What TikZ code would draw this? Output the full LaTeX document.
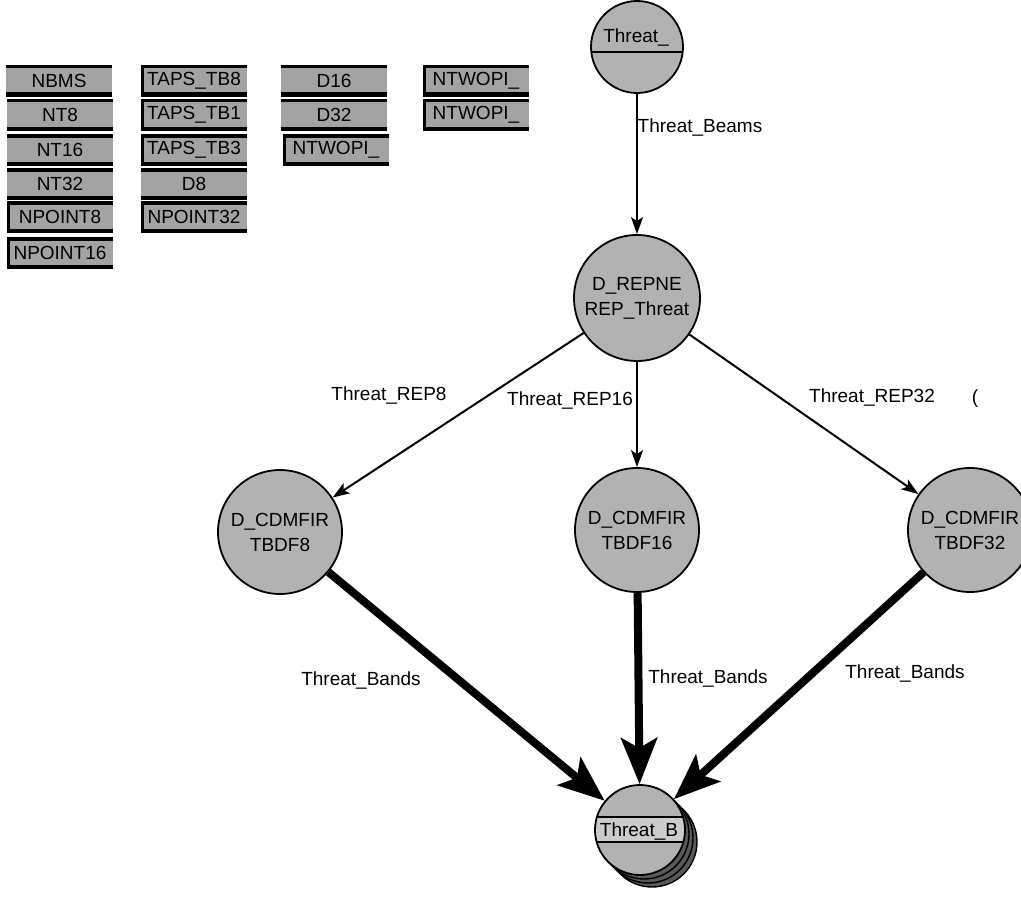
\documentclass[tikz,border=0pt]{standalone}
\usepackage{fontspec}
\setmainfont{Liberation Sans}
\usetikzlibrary{arrows.meta}
\definecolor{boxgray}{gray}{0.64}
\definecolor{circgray}{gray}{0.70}
\definecolor{bandgray}{gray}{0.80}
\definecolor{shadegray}{gray}{0.35}
\begin{document}
\begin{tikzpicture}[x=1pt,y=-1pt,
  every node/.style={font=\fontsize{19}{25}\selectfont, inner sep=0pt},
  box/.style={fill=boxgray, minimum width=106pt, minimum height=31pt},
  tb/.style={box, path picture={
      \draw[line width=6pt] (path picture bounding box.north west) -- (path picture bounding box.north east);
      \draw[line width=8pt] (path picture bounding box.south west) -- (path picture bounding box.south east);}},
  ltb/.style={box, path picture={
      \draw[line width=6pt] (path picture bounding box.north east) -- (path picture bounding box.north west)
      -- (path picture bounding box.south west);
      \draw[line width=8pt] (path picture bounding box.south west) -- (path picture bounding box.south east);}},
  circ/.style={circle, draw, line width=1.8pt, fill=circgray, align=center},
  shade/.style={circle, draw, line width=1.4pt, fill=shadegray, minimum size=90pt},
  thinarrow/.style={line width=2pt, -{Stealth[length=17pt,width=12pt,inset=4pt]}},
  thickarrow/.style={line width=8pt, -{Stealth[length=46pt,width=36pt,inset=10pt]}},
  lbl/.style={fill=none}
]
\useasboundingbox (0,0) rectangle (1021,899);
\fill[white] (0,0) rectangle (1021,899);
\clip (0,0) rectangle (1021,899);

% ---- palette boxes ----
\node[tb]  (nbms)  at (59,81)  {NBMS};
\node[tb]  (nt8)   at (60,115) {NT8};
\node[tb]  (nt16)  at (60,150) {NT16};
\node[tb]  (nt32)  at (60,184) {NT32};
\node[ltb] (np8)   at (60,217) {NPOINT8};
\node[ltb] (np16)  at (60,253) {NPOINT16};
\node[ltb] (tb8)   at (194,81)  {TAPS\_TB8};
\node[ltb] (tb1)   at (194,115) {TAPS\_TB1};
\node[ltb] (tb3)   at (194,150) {TAPS\_TB3};
\node[tb]  (d8)    at (194,184) {D8};
\node[ltb] (np32)  at (194,217) {NPOINT32};
\node[tb]  (d16)   at (334,81)  {D16};
\node[tb]  (d32)   at (334,115) {D32};
\node[ltb] (ntw3)  at (336,150) {NTWOPI\_};
\node[ltb] (ntw1)  at (476,81)  {NTWOPI\_};
\node[ltb] (ntw2)  at (476,115) {NTWOPI\_};

% ---- graph nodes ----
\node[circ, minimum size=92pt, path picture={\draw[line width=1.8pt]
   ([yshift=-5pt]path picture bounding box.west) -- ([yshift=-5pt]path picture bounding box.east);}]
   (threat) at (637,47) {};
\node (threattxt) at (636,38) {Threat\_};

\node[circ, minimum size=126pt] (repne) at (637,298) {D\_REPNE\\REP\_Threat};
\node[circ, minimum size=124pt] (tbdf8)  at (280,532) {D\_CDMFIR\\TBDF8};
\node[circ, minimum size=124pt] (tbdf16) at (637,530) {D\_CDMFIR\\TBDF16};
\node[circ, minimum size=124pt] (tbdf32) at (970,530) {D\_CDMFIR\\TBDF32};

\node[shade] (sh3) at (652,842) {};
\node[shade] (sh2) at (648,838) {};
\node[shade] (sh1) at (644,834) {};
\node[circ, minimum size=90pt, path picture={
   \fill[bandgray] ([yshift=13pt]path picture bounding box.west) rectangle ([yshift=-12pt]path picture bounding box.east);
   \draw[line width=1.4pt] ([yshift=13pt]path picture bounding box.west) -- ([yshift=13pt]path picture bounding box.east)
        ([yshift=-12pt]path picture bounding box.west) -- ([yshift=-12pt]path picture bounding box.east);}]
   (threatb) at (640,830) {};
\node (threatbtxt) at (639,831) {Threat\_B};

% ---- connectors ----
\draw[thinarrow] (threat) -- (repne);
\draw[thinarrow] (repne) -- (tbdf8);
\draw[thinarrow] (repne) -- (tbdf16);
\draw[thinarrow] (repne) -- (tbdf32);
\draw[thickarrow] (tbdf8) -- (threatb);
\draw[thickarrow] (tbdf16) -- (threatb);
\draw[thickarrow] (tbdf32) -- (threatb);

% ---- labels ----
\node[lbl] (lbeams) at (700,128) {Threat\_Beams};
\node[lbl] (lrep8)  at (389,396) {Threat\_REP8};
\node[lbl] (lrep16) at (570,401) {Threat\_REP16};
\node[lbl] (lrep32) at (872,398) {Threat\_REP32};
\node[lbl] (lfrag)  at (975,399) {(};
\node[lbl] (lb8)    at (361,680) {Threat\_Bands};
\node[lbl] (lb16)   at (708,678) {Threat\_Bands};
\node[lbl] (lb32)   at (905,673) {Threat\_Bands};
\end{tikzpicture}
\end{document}
